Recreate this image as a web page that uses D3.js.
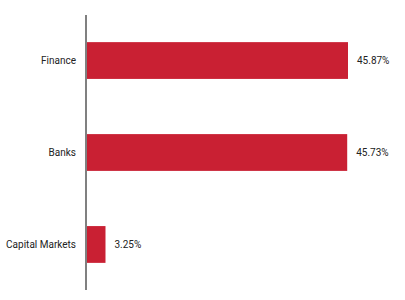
<!DOCTYPE html>
<html>
<head>
<meta charset="utf-8">
<script src="https://cdn.jsdelivr.net/npm/d3@7"></script>
<style>
  html, body { margin: 0; padding: 0; background: #fff; }
  svg { display: block; }
</style>
</head>
<body>
<script>
const categories = ['Finance', 'Banks', 'Capital Markets']
const values = [45.87, 45.73, 3.25]
const valueLabels = ['45.87%', '45.73%', '3.25%']

const width = 405
const height = 300
const margin = { top: 15, right: 57, bottom: 10, left: 87 }

const svg = d3.select('body')
  .append('svg')
  .attr('width', width)
  .attr('height', height)

const x = d3.scaleLinear()
  .domain([0, 45.87])
  .range([margin.left, width - margin.right])

const y = d3.scaleBand()
  .domain(categories)
  .range([margin.top, height - margin.bottom])
  .paddingInner(0.6)
  .paddingOuter(0.295)

const data = categories.map((c, i) => ({ c, v: values[i], label: valueLabels[i] }))

// bars
svg.selectAll('.bar')
  .data(data)
  .join('rect')
  .attr('class', 'bar')
  .attr('x', x(0))
  .attr('y', d => y(d.c))
  .attr('width', d => x(d.v) - x(0))
  .attr('height', y.bandwidth())
  .attr('fill', '#c92033')

// value labels
svg.selectAll('.val')
  .data(data)
  .join('text')
  .attr('class', 'val')
  .attr('x', d => x(d.v) + 9)
  .attr('y', d => y(d.c) + y.bandwidth() / 2)
  .attr('dy', '0.35em')
  .attr('font-family', 'Roboto, sans-serif')
  .attr('font-size', 10)
  .attr('fill', '#222')
  .text(d => d.label)

// category axis
const axis = svg.append('g')
  .attr('transform', `translate(${margin.left - 1},0)`)
  .call(d3.axisLeft(y).tickSize(0).tickPadding(10))

axis.select('.domain')
  .attr('d', `M0,${margin.top}V${height - margin.bottom}`)
  .attr('stroke', '#808080')
  .attr('stroke-width', 2)

axis.selectAll('text')
  .attr('font-family', 'Roboto, sans-serif')
  .attr('font-size', 10)
  .attr('fill', '#222')
</script>
</body>
</html>
